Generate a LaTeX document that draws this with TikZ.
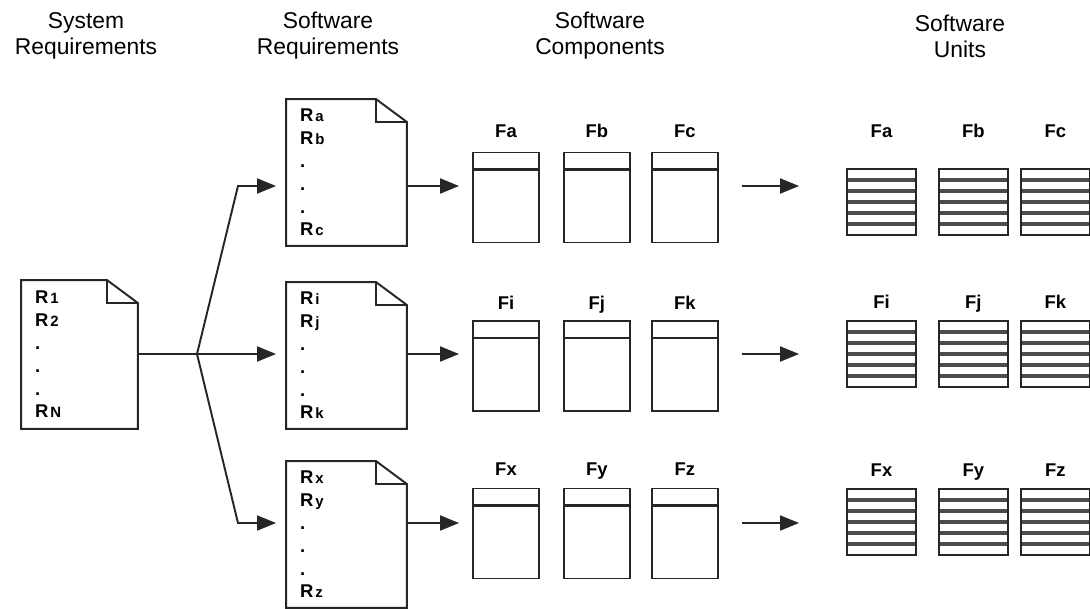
\documentclass[tikz,border=0pt]{standalone}
\usepackage{fontspec}
\setmainfont{Liberation Sans}
\usepackage{tikz}
\usetikzlibrary{
  arrows.meta,
  positioning,
  calc
}
\newcommand{\rlab}[1]{R\kern1.2pt{\fontsize{8.5}{8.5}\selectfont #1}}

\begin{document}
\begin{tikzpicture}[
      x=0.02cm, y=-0.02cm,
      heading/.style={
         align=center,
         font=\fontsize{13}{14.7}\selectfont
      },
      reqdoc/.style={
         rectangle,
         minimum height=2.9cm,
         inner xsep=0.26cm,
         text width=1.86cm,
         align=left,
         font=\bfseries\fontsize{10.5}{13}\selectfont
      },
      component/.style={
         rectangle, draw,
         minimum width=1.32cm,
         minimum height=1.8cm,
         path picture={
            \draw[line width=1.3pt] ([yshift=-0.34cm]path picture bounding box.north west)
               -- ([yshift=-0.34cm]path picture bounding box.north east);
         }
      },
      unit/.style={
         rectangle, draw,
         minimum width=1.38cm,
         minimum height=1.32cm,
         path picture={
            \foreach \k in {1,...,5}
               \draw[line width=0.07cm, black!70]
                  ($(path picture bounding box.north west)!\k/6!(path picture bounding box.south west)$)
                  -- ($(path picture bounding box.north east)!\k/6!(path picture bounding box.south east)$);
         }
      },
      flabel/.style={
         font=\bfseries\fontsize{10.5}{12}\selectfont,
         text height=1.6ex,
         text depth=0.3ex
      },
      >={Triangle[length=0.38cm,width=0.3cm]},
      line width=1.1pt,
      draw=black!85
    ]
    \useasboundingbox (0,0) rectangle (1090,609);

    % column headings
    \node (hsys)  [heading] at (86,36)  {System\\Requirements};
    \node (hreq)  [heading] at (328,36) {Software\\Requirements};
    \node (hcomp) [heading] at (600,36) {Software\\Components};
    \node (hunit) [heading] at (960,36) {Software\\Units};

    % requirement documents
    \node (sys)  [reqdoc, text width=1.78cm, minimum height=2.94cm] at (79.5,354.5)
       {\rlab{1}\\\rlab{2}\\.\\.\\.\\\rlab{N}};
    \node (reqa) [reqdoc] at (346.5,172.5) {\rlab{a}\\\rlab{b}\\.\\.\\.\\\rlab{c}};
    \node (reqi) [reqdoc] at (346.5,355.5) {\rlab{i}\\\rlab{j}\\.\\.\\.\\\rlab{k}};
    \node (reqx) [reqdoc] at (346.5,534.5) {\rlab{x}\\\rlab{y}\\.\\.\\.\\\rlab{z}};
    \foreach \d in {sys,reqa,reqi,reqx} {
       \draw (\d.north west) -- ([xshift=-0.62cm]\d.north east)
          -- ([yshift=-0.46cm]\d.north east) -- (\d.south east)
          -- (\d.south west) -- cycle;
       \draw ([xshift=-0.62cm]\d.north east) |- ([yshift=-0.46cm]\d.north east);
    }

    % fan out to the software requirements
    \coordinate (br) at (197,354);
    \coordinate (ka) at (238,186);
    \coordinate (ki) at (238,354);
    \coordinate (kx) at (238,523);
    \draw (sys.east |- br) -- (br);
    \draw[->, shorten >=0.2cm] (br) -- (ka) -- (ka -| reqa.west);
    \draw[->, shorten >=0.2cm] (br) -- (ki -| reqi.west);
    \draw[->, shorten >=0.2cm] (br) -- (kx) -- (kx -| reqx.west);

    % components and units, one row per document
    \foreach \r/\yc/\yu/\lc/\lu/\na/\nb/\nc in {
          a/197.5/202/0.08cm/0.42cm/Fa/Fb/Fc,
          i/366/354/0.02cm/0.04cm/Fi/Fj/Fk,
          x/533.5/522/0.04cm/0.04cm/Fx/Fy/Fz} {
       \node (c\r1) [component, label={[flabel,yshift=\lc]above:\na}] at (506,\yc) {};
       \node (c\r2) [component, right=0.46cm of c\r1, label={[flabel,yshift=\lc]above:\nb}] {};
       \node (c\r3) [component, right=0.4cm of c\r2, label={[flabel,yshift=\lc]above:\nc}] {};
       \node (u\r1) [unit, label={[flabel,yshift=\lu]above:\na}] at (881.5,\yu) {};
       \node (u\r2) [unit, right=0.42cm of u\r1, label={[flabel,yshift=\lu]above:\nb}] {};
       \node (u\r3) [unit, right=0.22cm of u\r2, label={[flabel,yshift=\lu]above:\nc}] {};
       \draw[->, shorten >=0.26cm] (req\r.east |- k\r) -- (k\r -| c\r1.west);
       \draw[->, shorten <=0.46cm, shorten >=0.94cm] (c\r3.east |- k\r) -- (k\r -| u\r1.west);
    }
\end{tikzpicture}
\end{document}
